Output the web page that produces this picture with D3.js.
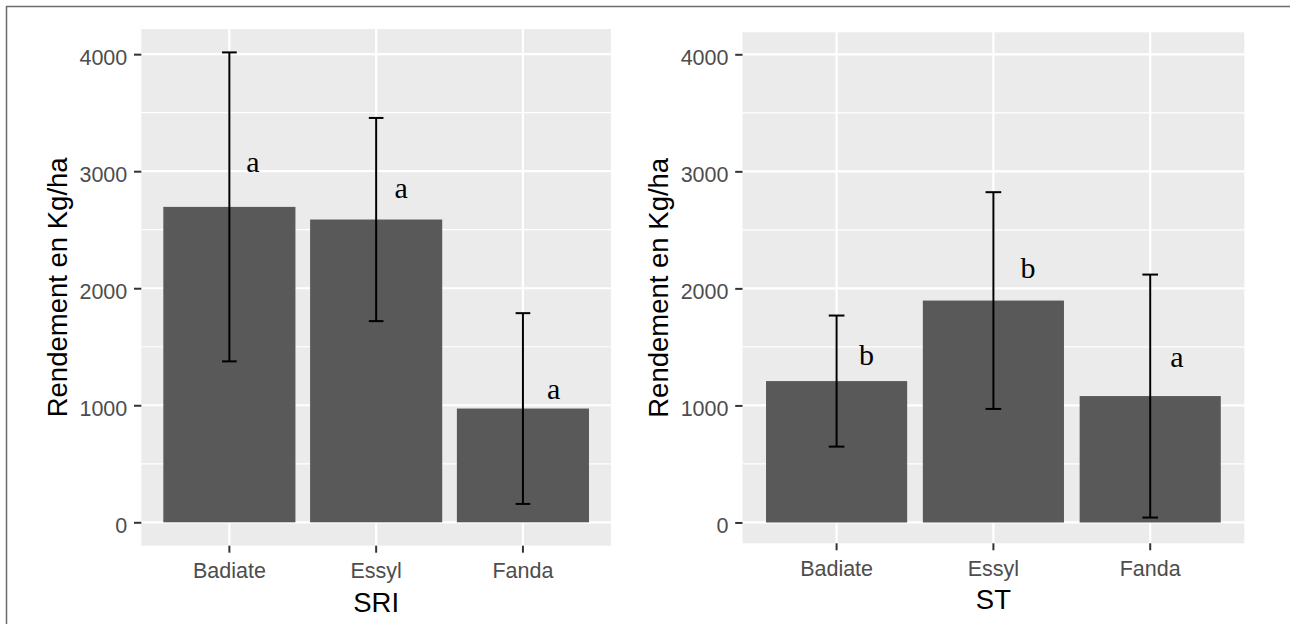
<!DOCTYPE html>
<html>
<head>
<meta charset="utf-8">
<script src="https://cdn.jsdelivr.net/npm/d3@7"></script>
<style>
  html, body { margin: 0; padding: 0; background: #ffffff; }
  svg { display: block; }
</style>
</head>
<body>
<svg id="chart" width="1290" height="624"></svg>
<script>
// ---------------- data ----------------
const categories = ["Badiate", "Essyl", "Fanda"];
const yTicks = [0, 1000, 2000, 3000, 4000];
const yMinorTicks = [500, 1500, 2500, 3500];

const sriMeans = [2695, 2587, 972];
const sriSd = [1320, 868, 815];
const sriLetters = ["a", "a", "a"];
const sriLetterY = [2996, 2769, 1055];
const sriLetterDx = [0.16, 0.17, 0.21];
const sriYLimits = [-200, 4215];

const stMeans = [1208, 1896, 1080];
const stSd = [560, 926, 1038];
const stLetters = ["b", "b", "a"];
const stLetterY = [1345, 2085, 1330];
const stLetterDx = [0.19, 0.22, 0.17];
const stYLimits = [-178, 4188];

const yTitle = "Rendement en Kg/ha";
const xTitles = ["SRI", "ST"];

// ---------------- layout ----------------
const panels = [
  { title: xTitles[0], means: sriMeans, sd: sriSd, letters: sriLetters, letterY: sriLetterY, letterDx: sriLetterDx, ylim: sriYLimits,
    left: 141.3, right: 611, top: 29, bottom: 545.7, titleX: 67 },
  { title: xTitles[1], means: stMeans, sd: stSd, letters: stLetters, letterY: stLetterY, letterDx: stLetterDx, ylim: stYLimits,
    left: 742.5, right: 1244.3, top: 32.3, bottom: 543.3, titleX: 668 }
];

const svg = d3.select("#chart");
const sansFont = "'Liberation Sans', Arial, sans-serif";
const serifFont = "'Liberation Serif', 'Times New Roman', serif";
const tickFont = 21.5;
const titleFont = 27.5;

// outer frame lines
svg.append("line").attr("x1", 6).attr("x2", 1290).attr("y1", 6.5).attr("y2", 6.5)
  .attr("stroke", "#6b6b6b").attr("stroke-width", 1.5);
svg.append("line").attr("x1", 6.5).attr("x2", 6.5).attr("y1", 6).attr("y2", 624)
  .attr("stroke", "#6b6b6b").attr("stroke-width", 1.5);

panels.forEach(p => {
  const x = d3.scaleBand().domain(categories).range([p.left, p.right])
    .paddingInner(0.1).paddingOuter(0.15);
  const step = x.step();
  const xc = c => x(c) + x.bandwidth() / 2;
  const y = d3.scaleLinear().domain(p.ylim).range([p.bottom, p.top]);

  const g = svg.append("g");

  // background
  g.append("rect").attr("x", p.left).attr("y", p.top)
    .attr("width", p.right - p.left).attr("height", p.bottom - p.top)
    .attr("fill", "#EBEBEB");

  // minor grid
  g.selectAll(".minor").data(yMinorTicks).enter().append("line")
    .attr("x1", p.left).attr("x2", p.right)
    .attr("y1", d => y(d)).attr("y2", d => y(d))
    .attr("stroke", "#ffffff").attr("stroke-width", 1.2);
  // major grid
  g.selectAll(".major").data(yTicks).enter().append("line")
    .attr("x1", p.left).attr("x2", p.right)
    .attr("y1", d => y(d)).attr("y2", d => y(d))
    .attr("stroke", "#ffffff").attr("stroke-width", 2.2);
  g.selectAll(".vgrid").data(categories).enter().append("line")
    .attr("x1", d => xc(d)).attr("x2", d => xc(d))
    .attr("y1", p.top).attr("y2", p.bottom)
    .attr("stroke", "#ffffff").attr("stroke-width", 2.2);

  // bars
  g.selectAll(".bar").data(categories).enter().append("rect")
    .attr("x", d => x(d)).attr("width", x.bandwidth())
    .attr("y", (d, i) => y(p.means[i]))
    .attr("height", (d, i) => y(0) - y(p.means[i]))
    .attr("fill", "#595959");

  // error bars
  const capHalf = step * 0.05;
  categories.forEach((c, i) => {
    const hi = p.means[i] + p.sd[i], lo = p.means[i] - p.sd[i];
    const cx = xc(c);
    g.append("line").attr("x1", cx).attr("x2", cx).attr("y1", y(hi)).attr("y2", y(lo))
      .attr("stroke", "#000").attr("stroke-width", 2);
    [hi, lo].forEach(v => {
      g.append("line").attr("x1", cx - capHalf).attr("x2", cx + capHalf)
        .attr("y1", y(v)).attr("y2", y(v))
        .attr("stroke", "#000").attr("stroke-width", 2);
    });
    // letters
    g.append("text").attr("x", cx + p.letterDx[i] * step).attr("y", y(p.letterY[i]))
      .attr("text-anchor", "middle")
      .attr("font-family", serifFont).attr("font-size", 30).attr("fill", "#000")
      .text(p.letters[i]);
  });

  // y axis
  const yAxis = d3.axisLeft(y).tickValues(yTicks).tickSize(7.3).tickPadding(6.7).tickFormat(d3.format("d"));
  const ya = svg.append("g").attr("transform", `translate(${p.left},0)`).call(yAxis);
  ya.select(".domain").remove();
  ya.selectAll(".tick line").attr("stroke", "#333333").attr("stroke-width", 2);
  ya.selectAll(".tick text").attr("fill", "#4D4D4D").attr("font-family", sansFont)
    .attr("font-size", tickFont).attr("dy", "0.47em");

  // x axis
  const xAxis = d3.axisBottom(x).tickSize(7).tickPadding(10.3);
  const xa = svg.append("g").attr("transform", `translate(0,${p.bottom})`).call(xAxis);
  xa.select(".domain").remove();
  xa.selectAll(".tick line").attr("stroke", "#333333").attr("stroke-width", 2);
  xa.selectAll(".tick text").attr("fill", "#4D4D4D").attr("font-family", sansFont)
    .attr("font-size", tickFont);

  // titles
  svg.append("text").attr("x", (p.left + p.right) / 2).attr("y", p.bottom + 66)
    .attr("text-anchor", "middle").attr("font-family", sansFont).attr("font-size", titleFont)
    .attr("fill", "#000").text(p.title);
  const cy = (p.top + p.bottom) / 2;
  svg.append("text").attr("transform", `translate(${p.titleX},${cy}) rotate(-90)`)
    .attr("text-anchor", "middle").attr("font-family", sansFont).attr("font-size", titleFont)
    .attr("fill", "#000").text(yTitle);
});
</script>
</body>
</html>
